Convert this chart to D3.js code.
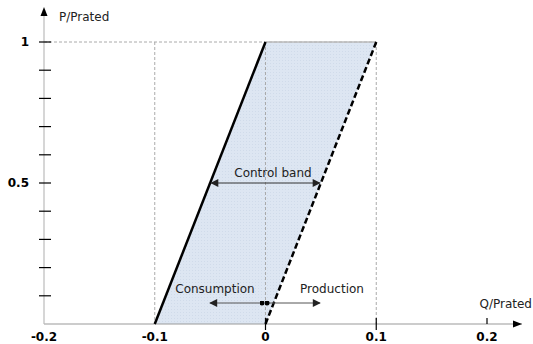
<!DOCTYPE html>
<html><head><meta charset="utf-8">
<script src="https://cdn.jsdelivr.net/npm/d3@7"></script>
<style>body{margin:0;background:#fff}svg{display:block;font-family:"DejaVu Sans",Verdana,sans-serif}</style>
</head><body>
<script>
// Data
const xTicks = [-0.2, -0.1, 0, 0.1, 0.2];
const xTickLabels = ["-0.2", "-0.1", "0", "0.1", "0.2"];
const yTicks = [0.1, 0.2, 0.3, 0.4, 0.5, 0.6, 0.7, 0.8, 0.9, 1];
const yTickLabels = {0.5: "0.5", 1: "1"};
const consumptionEdge = [[-0.1, 0], [0, 1]];
const productionEdge = [[0, 0], [0.1, 1]];
const band = [[-0.1, 0], [0, 1], [0.1, 1], [0, 0]];
const gridX = [-0.1, 0, 0.1];
const gridY = [1];

const W = 533, H = 344;
const svg = d3.select("body").append("svg").attr("width", W).attr("height", H);
const x = d3.scaleLinear().domain([-0.2, 0.2]).range([44, 487]);
const y = d3.scaleLinear().domain([0, 1]).range([324, 42]);

const defs = svg.append("defs");
const pat = defs.append("pattern").attr("id", "hatch").attr("patternUnits", "userSpaceOnUse")
  .attr("width", 3).attr("height", 3);
pat.append("rect").attr("width", 3).attr("height", 3).attr("fill", "#dde6f2");
pat.append("rect").attr("width", 1).attr("height", 1).attr("fill", "#d0dbea");
function marker(id, color) {
  defs.append("marker").attr("id", id).attr("viewBox", "0 0 10 10").attr("refX", 9).attr("refY", 5)
    .attr("markerWidth", 10).attr("markerHeight", 8).attr("markerUnits", "userSpaceOnUse").attr("orient", "auto-start-reverse")
    .append("path").attr("d", "M0,0L10,5L0,10Z").attr("fill", color);
}
marker("arrS", "#222");
defs.append("marker").attr("id", "dot").attr("viewBox", "0 0 6 6").attr("refX", 3).attr("refY", 3)
  .attr("markerWidth", 5).attr("markerHeight", 5).attr("markerUnits", "userSpaceOnUse")
  .append("circle").attr("cx", 3).attr("cy", 3).attr("r", 3).attr("fill", "#000");

// band fill
svg.append("path").attr("d", d3.line().x(d => x(d[0])).y(d => y(d[1]))(band) + "Z")
  .attr("fill", "url(#hatch)");

// gridlines
const g = svg.append("g").attr("stroke", "#aaa").attr("stroke-dasharray", "3,2").attr("stroke-width", 1);
gridX.forEach(v => g.append("line").attr("x1", x(v)).attr("x2", x(v)).attr("y1", y(1)).attr("y2", y(0)));
gridY.forEach(v => g.append("line").attr("x1", x(-0.2)).attr("x2", x(0.1)).attr("y1", y(v)).attr("y2", y(v)));
svg.append("line").attr("x1", x(0)).attr("x2", x(0.1)).attr("y1", y(1)).attr("y2", y(1))
  .attr("stroke", "#bbb").attr("stroke-width", 1.5);

// axes
const ax = svg.append("g");
ax.append("line").attr("x1", x(-0.2)).attr("x2", 522).attr("y1", y(0)).attr("y2", y(0))
  .attr("stroke", "#999").attr("stroke-width", 1.2);
ax.append("path").attr("d", `M522,${y(0)}l-9,-3.5v7z`).attr("fill", "#000");
ax.append("line").attr("x1", x(-0.2)).attr("x2", x(-0.2)).attr("y1", y(0)).attr("y2", 10)
  .attr("stroke", "#bbb").attr("stroke-width", 1.2);
ax.append("path").attr("d", `M${x(-0.2)},7l-3.5,9h7z`).attr("fill", "#000");

// y ticks
yTicks.forEach(v => {
  ax.append("line").attr("x1", 39).attr("x2", 51).attr("y1", y(v)).attr("y2", y(v))
    .attr("stroke", "#000").attr("stroke-width", 1.2);
  if (yTickLabels[v]) ax.append("text").attr("x", 29).attr("y", y(v) + 4).attr("text-anchor", "end")
    .attr("font-size", 12).attr("font-weight", "bold").text(yTickLabels[v]);
});
// x ticks
xTicks.forEach((v, i) => {
  if (v > -0.2 && v !== -0.1) ax.append("line").attr("x1", x(v)).attr("x2", x(v)).attr("y1", y(0) - 6).attr("y2", y(0) + (v === 0.2 ? 0 : 6))
    .attr("stroke", "#000").attr("stroke-width", 1.2);
  ax.append("text").attr("x", x(v)).attr("y", 341).attr("text-anchor", "middle")
    .attr("font-size", 12).attr("font-weight", "bold").text(xTickLabels[i]);
});
svg.append("text").attr("x", 59).attr("y", 21).attr("font-size", 12).attr("fill", "#222").text("P/Prated");
svg.append("text").attr("x", 532).attr("y", 308).attr("text-anchor", "end").attr("font-size", 12).attr("fill", "#222").text("Q/Prated");

// edges
const ln = d3.line().x(d => x(d[0])).y(d => y(d[1]));
svg.append("path").attr("d", ln(consumptionEdge)).attr("stroke", "#000").attr("stroke-width", 2.5).attr("fill", "none");
svg.append("path").attr("d", ln(productionEdge)).attr("stroke", "#000").attr("stroke-width", 2.5)
  .attr("stroke-dasharray", "6,3").attr("fill", "none");

// control band arrow
svg.append("line").attr("x1", x(-0.05) + 1).attr("x2", x(0.05) - 1).attr("y1", y(0.5)).attr("y2", y(0.5))
  .attr("stroke", "#333").attr("stroke-width", 1.2)
  .attr("marker-start", "url(#arrS)").attr("marker-end", "url(#arrS)");
svg.append("text").attr("x", 273).attr("y", 177).attr("text-anchor", "middle").attr("font-size", 12)
  .attr("fill", "#222").text("Control band");

// consumption / production arrows
svg.append("line").attr("x1", 262).attr("x2", 210).attr("y1", 303).attr("y2", 303)
  .attr("stroke", "#555").attr("stroke-width", 1).attr("marker-start", "url(#dot)").attr("marker-end", "url(#arrS)");
svg.append("line").attr("x1", 267).attr("x2", 320).attr("y1", 303).attr("y2", 303)
  .attr("stroke", "#555").attr("stroke-width", 1).attr("marker-start", "url(#dot)").attr("marker-end", "url(#arrS)");
svg.append("text").attr("x", 215).attr("y", 293).attr("text-anchor", "middle").attr("font-size", 12)
  .attr("fill", "#222").text("Consumption");
svg.append("text").attr("x", 332).attr("y", 293).attr("text-anchor", "middle").attr("font-size", 12)
  .attr("fill", "#222").text("Production");
</script>
</body></html>
